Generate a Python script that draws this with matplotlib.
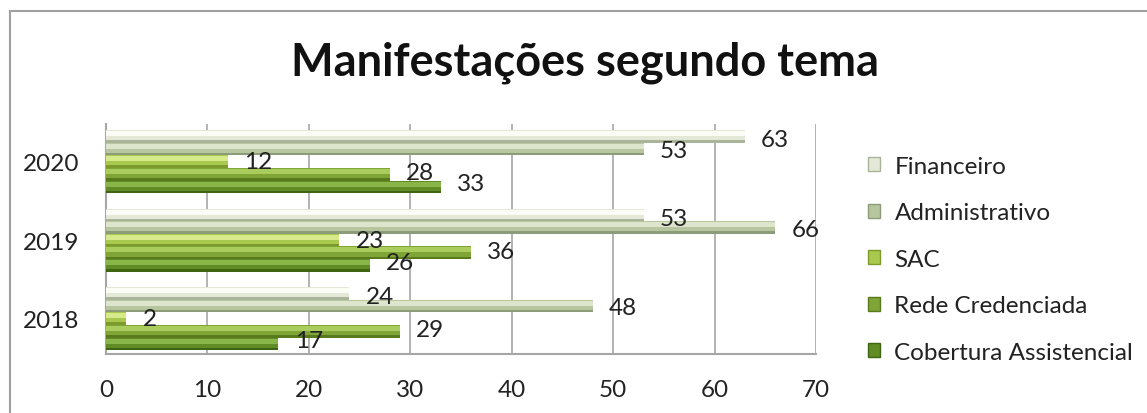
import matplotlib
matplotlib.use("Agg")
import matplotlib.pyplot as plt
import numpy as np
from matplotlib.patches import Rectangle, Patch

plt.rcParams['font.family'] = ['Lato', 'DejaVu Sans']

years = ['2018', '2019', '2020']
series_names = ['Financeiro', 'Administrativo', 'SAC', 'Rede Credenciada', 'Cobertura Assistencial']
financeiro = [24, 53, 63]
administrativo = [48, 66, 53]
sac = [2, 23, 12]
rede_credenciada = [29, 36, 28]
cobertura = [17, 26, 33]
series_values = [financeiro, administrativo, sac, rede_credenciada, cobertura]

# (light, mid, dark) per series
palettes = [
    ('#fbfcf6', '#e3e9d6', '#a9b49a'),
    ('#dde5cc', '#b8c6a0', '#8d9c78'),
    ('#d6ea8c', '#a9c94e', '#7d9a2c'),
    ('#a9cc5c', '#7ea535', '#587a1c'),
    ('#8ab548', '#5f8c24', '#3f6414'),
]

FS = 17.5

fig = plt.figure(figsize=(11.47, 4.14), dpi=100)
ax = fig.add_axes([106/1147, (414-355)/414, (816-106)/1147, (355-125)/414])

y = np.arange(len(years))
h = 0.16
offsets = [0.32, 0.16, 0.0, -0.16, -0.32]

for vals, off, (lt, md, dk) in zip(series_values, offsets, palettes):
    yy = y + off
    ax.barh(yy, vals, height=h, color=md, zorder=3)
    ax.barh(yy + h * 0.22, vals, height=h * 0.4, color=lt, zorder=4)
    ax.barh(yy - h * 0.40, vals, height=h * 0.2, color=dk, zorder=4)
    for yi, v in zip(y + off * 0.88, vals):
        ax.text(v + 1.6, yi, str(v), ha='left', va='center', fontsize=FS, color='#222222', zorder=6)

ax.set_xlim(0, 70)
ax.set_ylim(-0.45, 2.48)
ax.set_xticks(range(0, 71, 10))
ax.set_yticks(y)
ax.set_yticklabels(years)
ax.tick_params(axis='both', length=0, labelsize=FS, colors='#222222')
ax.tick_params(axis='x', pad=18)
ax.tick_params(axis='y', pad=19)
ax.grid(axis='x', color='#a6a6a6', linewidth=1.2, zorder=0)
for s in ['top', 'right']:
    ax.spines[s].set_visible(False)
ax.spines['left'].set_color('#a6a6a6')
ax.spines['left'].set_linewidth(1.5)
ax.spines['bottom'].set_color('#a6a6a6')
ax.spines['bottom'].set_linewidth(1.5)

fig.text(585/1147, 1 - 63/414, 'Manifestações segundo tema', ha='center', va='center',
         fontsize=32.5, fontweight='bold', color='#111111')

handles = [Patch(facecolor=p[1], edgecolor=p[2], linewidth=1) for p in palettes]
leg = fig.legend(handles, series_names, loc='upper left', bbox_to_anchor=(858/1147, 1 - 147/414),
                 frameon=False, fontsize=FS, handlelength=0.5, handleheight=0.5,
                 handletextpad=0.6, labelspacing=1.05, borderaxespad=0)
for t in leg.get_texts():
    t.set_color('#222222')

# outer chart border
fig.add_artist(Rectangle((10/1147, -0.1), 1.2, 1 - 12/414 + 0.1, transform=fig.transFigure,
                         fill=False, edgecolor='#a0a0a0', linewidth=1.5))

fig.savefig('out.png', dpi=100)
